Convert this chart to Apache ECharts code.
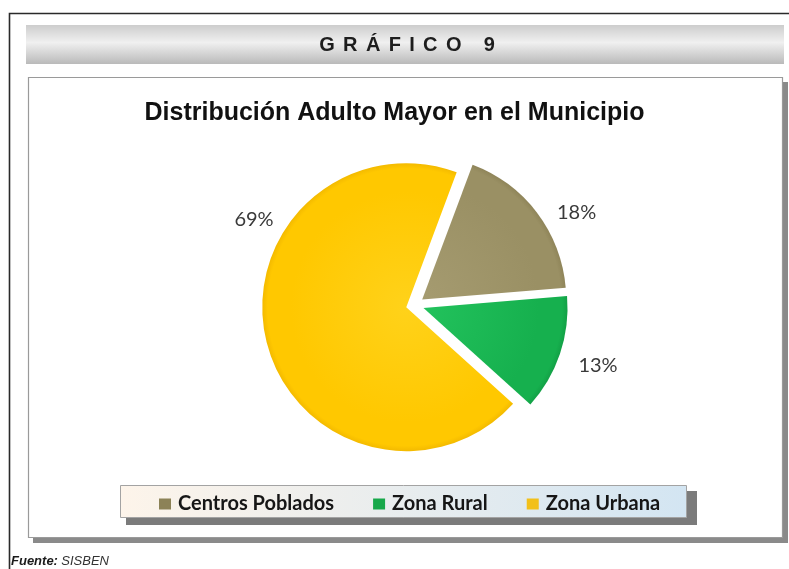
<!DOCTYPE html>
<html>
<head>
<meta charset="utf-8">
<script src="https://cdn.jsdelivr.net/npm/echarts@6/dist/echarts.min.js"></script>
<style>
html,body{margin:0;padding:0;background:#fff;}
#chart{width:789px;height:569px;}
</style>
</head>
<body>
<div id="chart"></div>
<script>
// ---- data ----
const categories = ['Centros Poblados', 'Zona Rural', 'Zona Urbana'];
const percents = [18, 13, 69];
const headerText = 'G\u2004\u200AR\u2004\u200AÁ\u2004\u200AF\u2004\u200AI\u2004\u200AC\u2004\u200AO\u2002\u2004 9';
const chartTitle = 'Distribución Adulto Mayor en el Municipio';
const sourceLabel = 'Fuente:';
const sourceName = 'SISBEN';

// ---- styles ----
const sliceColors = [
  ['#a59b70', '#9a9064', '#7a6f44'],
  ['#22c25c', '#16b04e', '#0b8336'],
  ['#ffd21a', '#ffc800', '#dea000']
];
const legendColors = ['#8c8257', '#17a84a', '#f2c01a'];
const labelNudges = [[-1, 6], [-4, 8], [30, -124]];
const pieCenter = [415, 305];
const pieRadius = 144;

const chart = echarts.init(document.getElementById('chart'), null, {renderer: 'canvas'});

const seriesData = categories.map((name, i) => ({
  name: name,
  value: percents[i],
  selected: true,
  itemStyle: {
    color: {
      type: 'radial', global: true,
      x: pieCenter[0], y: pieCenter[1], r: pieRadius + 10,
      colorStops: [
        {offset: 0, color: sliceColors[i][0]},
        {offset: 0.75, color: sliceColors[i][1]},
        {offset: 0.9, color: sliceColors[i][1]},
        {offset: 1, color: sliceColors[i][2]}
      ]
    }
  }
}));

const option = {
  backgroundColor: '#ffffff',
  animation: false,
  title: {
    text: chartTitle,
    left: 'center',
    top: 96,
    textStyle: {
      fontFamily: '"Liberation Sans Narrow", "Arial Narrow", "Liberation Sans", sans-serif',
      fontWeight: 'bold',
      fontSize: 25,
      color: '#111'
    }
  },
  legend: {
    data: categories.map((n, i) => ({name: n, itemStyle: {color: legendColors[i]}})),
    left: 154,
    top: 489,
    icon: 'rect',
    itemWidth: 12,
    itemHeight: 11,
    itemGap: 39,
    selectedMode: false,
    textStyle: {
      fontFamily: 'Lato, "Open Sans", sans-serif',
      fontWeight: 'bold',
      fontSize: 20,
      color: '#161616',
      padding: [0, 0, 0, 2]
    },
    z: 10
  },
  graphic: [
    // outer frame
    {type: 'polyline', z: 0, silent: true,
     shape: {points: [[9.5, 569], [9.5, 13.5], [789, 13.5]]},
     style: {stroke: '#2a2a2a', lineWidth: 1.6, fill: null}},
    // header bar
    {type: 'rect', z: 0, silent: true,
     shape: {x: 26, y: 25, width: 758, height: 39},
     style: {fill: {type: 'linear', x: 0, y: 0, x2: 0, y2: 1, colorStops: [
       {offset: 0, color: '#cdcdcd'},
       {offset: 0.45, color: '#f0f0f0'},
       {offset: 0.55, color: '#e6e6e6'},
       {offset: 1, color: '#bababa'}]}}},
    {type: 'text', z: 1, silent: true,
     x: 407, y: 45,
     style: {text: headerText, x: 0, y: 0, align: 'center', verticalAlign: 'middle',
       font: 'bold 20px "Liberation Sans", Arial, sans-serif', fill: '#1e1e1e'}},
    // chart box shadow
    {type: 'rect', z: 0, silent: true,
     shape: {x: 33, y: 82, width: 755, height: 461},
     style: {fill: '#8a8a8a'}},
    // chart box
    {type: 'rect', z: 0, silent: true,
     shape: {x: 28.5, y: 77.5, width: 754, height: 460},
     style: {fill: '#ffffff', stroke: '#9a9a9a', lineWidth: 1.2}},
    // legend shadow
    {type: 'rect', z: 1, silent: true,
     shape: {x: 126, y: 491, width: 571, height: 34},
     style: {fill: '#7b7b7b'}},
    // legend box
    {type: 'rect', z: 2, silent: true,
     shape: {x: 120.5, y: 485.5, width: 566, height: 32},
     style: {fill: {type: 'linear', x: 0, y: 0, x2: 1, y2: 0, colorStops: [
       {offset: 0, color: '#fdf4ea'},
       {offset: 1, color: '#d3e5f2'}]}, stroke: '#a3a3a3', lineWidth: 1}},
    // source
    {type: 'text', z: 2, silent: true, x: 11, y: 561,
     style: {text: '{b|' + sourceLabel + '} {n|' + sourceName + '}', verticalAlign: 'middle',
       rich: {
         b: {font: 'italic bold 13px "Liberation Sans", Arial, sans-serif', fill: '#1a1a1a'},
         n: {font: 'italic 13px "Liberation Sans", Arial, sans-serif', fill: '#333'}
       }}}
  ],
  series: [{
    type: 'pie',
    center: pieCenter,
    radius: pieRadius,
    startAngle: 69.5,
    clockwise: true,
    selectedMode: 'multiple',
    selectedOffset: 9,
    avoidLabelOverlap: false,
    silent: true,
    z: 5,
    label: {
      show: true,
      position: 'outside',
      formatter: p => p.value + '%',
      fontFamily: 'Lato, "Open Sans", sans-serif',
      fontSize: 20,
      color: '#3a3a3a'
    },
    labelLine: {show: false, length: 10, length2: 8},
    labelLayout: function (params) {
      const n = labelNudges[params.dataIndex];
      return {dx: n[0], dy: n[1]};
    },
    emphasis: {disabled: true},
    data: seriesData
  }]
};

chart.setOption(option);
</script>
</body>
</html>
